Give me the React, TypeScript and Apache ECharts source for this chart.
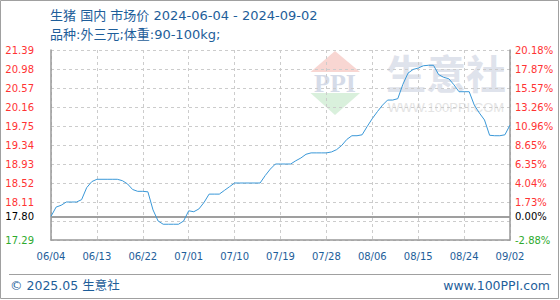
import React, { useEffect, useRef } from 'react';
import * as echarts from 'echarts';

const TITLE = '生猪 国内 市场价 2024-06-04 - 2024-09-02';
const SUBTITLE = '品种:外三元;体重:90-100kg;';
const FOOTER_LEFT = '© 2025.05 生意社';
const FOOTER_RIGHT = 'www.100PPI.com';
const WATERMARK = '生意社';
const WATERMARK_URL = 'WWW.100PPI.COM';
const LOGO_TEXT = 'PPI';

const START_DATE = '2024-06-04';

// daily price, 2024-06-04 .. 2024-09-02
const PRICES = [
  17.80, 18.00, 18.04, 18.11, 18.11, 18.11, 18.16, 18.42, 18.55, 18.60,
  18.60, 18.60, 18.60, 18.60, 18.57, 18.50, 18.38, 18.34, 18.34, 18.33,
  17.94, 17.70, 17.63, 17.63, 17.63, 17.63, 17.70, 17.92, 17.90, 17.96,
  18.10, 18.28, 18.28, 18.28, 18.36, 18.44, 18.52, 18.52, 18.52, 18.52,
  18.52, 18.52, 18.68, 18.82, 18.93, 18.93, 18.93, 18.93, 19.00, 19.06,
  19.14, 19.17, 19.17, 19.17, 19.17, 19.19, 19.24, 19.33, 19.46, 19.54,
  19.54, 19.56, 19.74, 19.91, 20.06, 20.20, 20.31, 20.31, 20.34, 20.65,
  20.89, 20.97, 21.00, 21.05, 21.06, 21.06, 20.86, 20.80, 20.77, 20.64,
  20.49, 20.49, 20.49, 20.20, 20.03, 19.88, 19.55, 19.54, 19.54, 19.56,
  19.77,
];

// one label every 9 days
const X_LABEL_STEP = 9;

const Y_MIN = 17.29;
const Y_MAX = 21.39;
const Y_STEP = 0.41;
const LEFT_LABELS = ['17.29', '', '18.11', '18.52', '18.93', '19.34', '19.75', '20.16', '20.57', '20.98', '21.39'];
const RIGHT_LABELS = ['-2.88%', '', '1.73%', '4.04%', '6.35%', '8.65%', '10.96%', '13.26%', '15.57%', '17.87%', '20.18%'];
const BASE_PRICE = 17.80;
const BASE_LEFT = '17.80';
const BASE_RIGHT = '0.00%';

const FONT = '"DejaVu Sans", "Noto Sans CJK SC", sans-serif';
const BLUE = '#1e5e9a';
const RED = '#ff3333';
const GREEN = '#2eaa2e';
const AXIS_GRAY = '#999999';

function buildDates(start: string, n: number): string[] {
  const [y, m, d] = start.split('-').map(Number);
  const out: string[] = [];
  for (let i = 0; i < n; i++) {
    const dt = new Date(Date.UTC(y, m - 1, d + i));
    const mm = String(dt.getUTCMonth() + 1).padStart(2, '0');
    const dd = String(dt.getUTCDate()).padStart(2, '0');
    out.push(`${mm}/${dd}`);
  }
  return out;
}

const tickIndex = (v: number) => Math.round((Number(v) - Y_MIN) / Y_STEP);

export default function App() {
  const ref = useRef<HTMLDivElement>(null);

  useEffect(() => {
    if (!ref.current) return;
    const chart = echarts.init(ref.current, undefined, { renderer: 'svg' });
    const dates = buildDates(START_DATE, PRICES.length);

    const rich = {
      r: { color: RED, fontSize: 10, fontFamily: FONT },
      g: { color: GREEN, fontSize: 10, fontFamily: FONT },
    };

    const option: any = {
      animation: false,
      backgroundColor: '#ffffff',
      grid: { left: 51, top: 50, width: 459, height: 190, containLabel: false, outerBoundsMode: 'none' },
      xAxis: {
        type: 'category',
        data: dates,
        boundaryGap: false,
        axisLine: { show: true, lineStyle: { color: AXIS_GRAY, width: 1.5 } },
        axisTick: { show: false },
        axisLabel: {
          show: true,
          interval: X_LABEL_STEP - 1,
          margin: 11,
          color: BLUE,
          fontSize: 10,
          fontFamily: FONT,
          hideOverlap: false,
        },
        splitLine: {
          show: true,
          interval: X_LABEL_STEP - 1,
          lineStyle: { color: '#cccccc', type: [3, 3], width: 1 },
        },
      },
      yAxis: [
        {
          type: 'value',
          position: 'left',
          min: Y_MIN,
          max: Y_MAX,
          interval: Y_STEP,
          axisLine: { show: true, lineStyle: { color: AXIS_GRAY, width: 1.5 } },
          axisTick: { show: false },
          splitLine: { show: true, lineStyle: { color: '#cccccc', type: [3, 3], width: 1 } },
          axisLabel: {
            margin: 17,
            fontSize: 10,
            fontFamily: FONT,
            formatter: (v: number) => {
              const i = tickIndex(v);
              const t = LEFT_LABELS[i] || '';
              if (!t) return '';
              return i === 0 ? `{g|${t}}` : `{r|${t}}`;
            },
            rich,
          },
        },
        {
          type: 'value',
          position: 'right',
          min: Y_MIN,
          max: Y_MAX,
          interval: Y_STEP,
          axisLine: { show: true, lineStyle: { color: AXIS_GRAY, width: 1.5 } },
          axisTick: { show: false },
          splitLine: { show: false },
          axisLabel: {
            margin: 5,
            fontSize: 10,
            fontFamily: FONT,
            formatter: (v: number) => {
              const i = tickIndex(v);
              const t = RIGHT_LABELS[i] || '';
              if (!t) return '';
              return i === 0 ? `{g|${t}}` : `{r|${t}}`;
            },
            rich,
          },
        },
      ],
      series: [
        {
          type: 'line',
          xAxisIndex: 0,
          yAxisIndex: 0,
          data: PRICES,
          showSymbol: false,
          symbol: 'none',
          z: 5,
          lineStyle: { color: '#3a98d8', width: 1 },
          markLine: {
            silent: true,
            symbol: ['none', 'none'],
            lineStyle: { color: AXIS_GRAY, type: 'solid', width: 1.5 },
            label: { color: '#000000', fontSize: 10, fontFamily: FONT },
            data: [
              {
                yAxis: BASE_PRICE,
                label: { position: 'start', formatter: BASE_LEFT, distance: 17, color: '#000000', fontSize: 10, fontFamily: FONT },
              },
              {
                yAxis: BASE_PRICE,
                label: { position: 'end', formatter: BASE_RIGHT, distance: 5, color: '#000000', fontSize: 10, fontFamily: FONT },
              },
            ],
          },
        },
      ],
      graphic: [
        {
          type: 'rect',
          z: 0,
          shape: { x: 0.5, y: 0.5, width: 558, height: 298 },
          style: { fill: 'none', stroke: '#a0a0a0', lineWidth: 1 },
        },
        {
          type: 'polygon',
          z: 0,
          shape: { points: [[335, 51], [310.5, 72], [360, 72]] },
          style: { fill: '#f8d6d2' },
        },
        {
          type: 'polygon',
          z: 0,
          shape: { points: [[310.5, 93], [360, 93], [335, 115]] },
          style: { fill: '#d9f0dc' },
        },
        {
          type: 'text',
          z: 0,
          style: {
            text: LOGO_TEXT,
            x: 335,
            y: 83,
            align: 'center',
            verticalAlign: 'middle',
            fontSize: 26,
            fontWeight: 'bold',
            fontFamily: '"Liberation Serif", serif',
            fill: '#d5dbe8',
          },
        },
        {
          type: 'text',
          z: 0,
          style: {
            text: WATERMARK,
            x: 446,
            y: 72,
            align: 'center',
            verticalAlign: 'middle',
            fontSize: 40,
            fontWeight: 'bold',
            fontFamily: '"Noto Sans CJK SC", sans-serif',
            fill: '#dfe3ec',
          },
        },
        {
          type: 'text',
          z: 0,
          style: {
            text: WATERMARK_URL,
            x: 446,
            y: 107,
            align: 'center',
            verticalAlign: 'middle',
            fontSize: 13,
            fontFamily: '"Liberation Sans", sans-serif',
            fill: '#e4e4e4',
          },
        },
        {
          type: 'text',
          style: {
            text: TITLE,
            x: 50,
            y: 15,
            verticalAlign: 'middle',
            fontSize: 13,
            fontFamily: FONT,
            fill: BLUE,
          },
        },
        {
          type: 'text',
          style: {
            text: SUBTITLE,
            x: 50,
            y: 34,
            verticalAlign: 'middle',
            fontSize: 13,
            fontFamily: FONT,
            fill: BLUE,
          },
        },
        {
          type: 'line',
          shape: { x1: 9, y1: 274.5, x2: 551, y2: 274.5 },
          style: { stroke: '#a0a0a0', lineWidth: 1 },
        },
        {
          type: 'text',
          style: {
            text: FOOTER_LEFT,
            x: 10,
            y: 285,
            verticalAlign: 'middle',
            fontSize: 12.5,
            fontFamily: FONT,
            fill: BLUE,
          },
        },
        {
          type: 'text',
          style: {
            text: FOOTER_RIGHT,
            x: 550,
            y: 285,
            align: 'right',
            verticalAlign: 'middle',
            fontSize: 12.5,
            fontFamily: FONT,
            fill: BLUE,
          },
        },
      ],
    };

    chart.setOption(option);
    return () => chart.dispose();
  }, []);

  return (
    <div
      ref={ref}
      style={{ position: 'fixed', left: 0, top: 0, width: 560, height: 300, background: '#ffffff' }}
    />
  );
}
